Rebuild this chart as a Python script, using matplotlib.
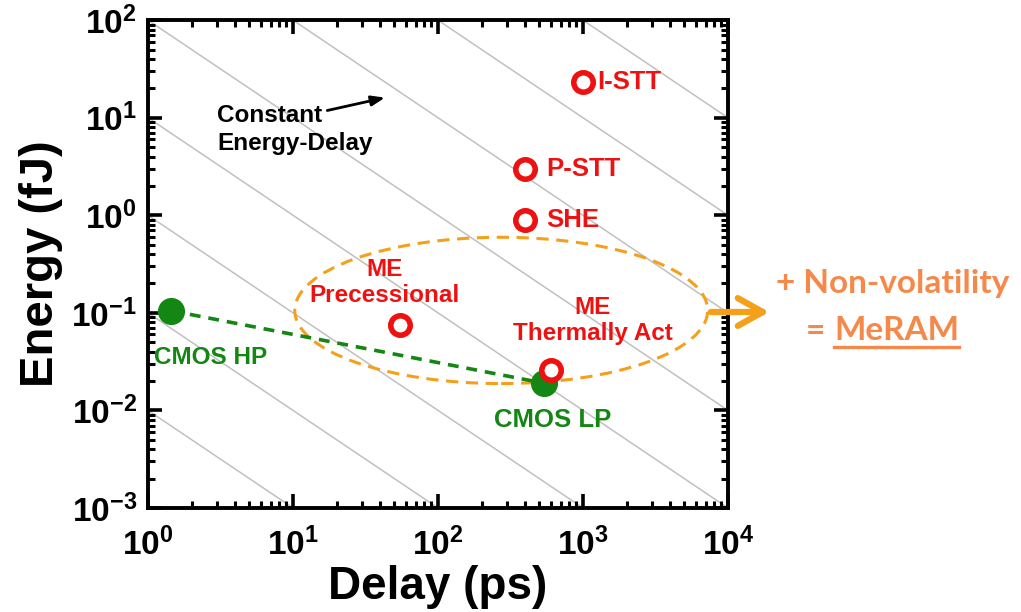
import numpy as np
import matplotlib
matplotlib.use("Agg")
import matplotlib.pyplot as plt
from matplotlib.patches import Ellipse, FancyArrowPatch
from matplotlib.lines import Line2D

plt.rcParams['font.family'] = ['Liberation Sans', 'DejaVu Sans']
plt.rcParams['mathtext.fontset'] = 'custom'
plt.rcParams['mathtext.rm'] = 'Liberation Sans:bold'
plt.rcParams['mathtext.it'] = 'Liberation Sans:bold'
plt.rcParams['mathtext.bf'] = 'Liberation Sans:bold'

# devices: delay (ps), energy (fJ)
mram_delay = [1000, 400, 400, 55, 600]
mram_energy = [23, 3.0, 0.9, 0.075, 0.026]

cmos_delay = [1.45, 540]
cmos_energy = [0.105, 0.019]

# constant energy-delay products (fJ*ps)
ed_products = [1e-2, 1e-1, 1e0, 1e1, 1e2, 1e3, 1e4, 1e5, 1e6]

xticks = [1, 10, 100, 1000, 10000]
xtick_labels = ['$10^{0}$', '$10^{1}$', '$10^{2}$', '$10^{3}$', '$10^{4}$']
yticks = [1e-3, 1e-2, 1e-1, 1e0, 1e1, 1e2]
ytick_labels = ['$10^{-3}$', '$10^{-2}$', '$10^{-1}$', '$10^{0}$', '$10^{1}$', '$10^{2}$']

red = '#EE1111'
green = '#138613'
orange = '#F5A01A'
text_orange = '#F5894A'

fig = plt.figure(figsize=(10.21, 6.12), dpi=100)
ax = fig.add_axes([0.145, 0.170, 0.568, 0.797])
ax.set_xscale('log')
ax.set_yscale('log')
ax.set_xlim(1, 1e4)
ax.set_ylim(1e-3, 1e2)

xx = np.logspace(0, 4, 200)
for p in ed_products:
    ax.plot(xx, p / xx, color='#c0c0c0', lw=1.1, zorder=1)

# CMOS trend
ax.plot(cmos_delay, cmos_energy, ls=(0, (3, 2.2)), color=green, lw=2.6, zorder=3)
ax.plot(cmos_delay, cmos_energy, 'o', ms=18.5, color=green, zorder=4)

ax.plot(mram_delay, mram_energy, 'o', ms=14, mfc='white', mec=red, mew=4, zorder=5)

# ME ellipse (drawn in axes space)
ell = Ellipse((0.609, 0.405), 0.712, 0.300, transform=ax.transAxes, fill=False,
              ec=orange, lw=2.2, ls=(0, (4, 2.5)), zorder=2)
ax.add_patch(ell)

lab = dict(fontweight='bold', color=red, zorder=6)
ax.text(1250, 23, 'I-STT', ha='left', va='center', fontsize=18.5, **lab)
ax.text(560, 3.0, 'P-STT', ha='left', va='center', fontsize=18.5, **lab)
ax.text(560, 0.9, 'SHE', ha='left', va='center', fontsize=18.5, **lab)
ax.text(43, 0.205, 'ME\nPrecessional', ha='center', va='center', linespacing=1.15,
        fontsize=17.5, **lab)
ax.text(1170, 0.083, 'ME\nThermally Act', ha='center', va='center', linespacing=1.15,
        fontsize=17.5, **lab)

ax.text(2.7, 0.035, 'CMOS HP', ha='center', va='center', fontsize=17.5, fontweight='bold', color=green)
ax.text(620, 0.0079, 'CMOS LP', ha='center', va='center', fontsize=18.5, fontweight='bold', color=green)

ax.text(3.0, 7.6, 'Constant\nEnergy-Delay', ha='left', va='center', fontsize=17.5,
        fontweight='bold', color='black', linespacing=1.3)
ax.annotate('', xy=(45, 16.3), xytext=(16.5, 11.7),
            arrowprops=dict(arrowstyle='-|>,head_length=0.8,head_width=0.3', color='black', lw=2))

ax.set_xticks(xticks)
ax.set_xticklabels(xtick_labels)
ax.set_yticks(yticks)
ax.set_yticklabels(ytick_labels)
ax.tick_params(which='major', direction='in', length=10, width=2.6, top=True, right=True,
               labelsize=24)
ax.tick_params(axis='x', which='major', pad=14)
ax.tick_params(axis='y', which='major', pad=8)
ax.tick_params(which='minor', direction='in', length=5, width=2.2, top=True, right=True)
for s in ax.spines.values():
    s.set_linewidth(2.8)

ax.set_xlabel('Delay (ps)', fontsize=33, fontweight='bold', labelpad=2)
ax.set_ylabel('Energy (fJ)', fontsize=34, fontweight='bold', labelpad=6)

# arrow to MeRAM note
fig.add_artist(FancyArrowPatch(
    (708 / 1021, 1 - 312 / 612), (772 / 1021, 1 - 312 / 612), transform=fig.transFigure,
    arrowstyle='->,head_length=0.9,head_width=0.5', color=orange, lw=4.5, mutation_scale=20))

fig.text(893 / 1021, 1 - 283 / 612, '+ Non-volatility', ha='center', va='center',
         fontsize=24, fontweight='bold', color=text_orange, family='Lato')
fig.text(806 / 1021, 1 - 331 / 612, '=', ha='left', va='center',
         fontsize=24, fontweight='bold', color=text_orange, family='Lato')
t_me = fig.text(834 / 1021, 1 - 331 / 612, 'MeRAM', ha='left', va='center',
                fontsize=24, fontweight='bold', color=text_orange, family='Lato')
fig.canvas.draw()
bb = t_me.get_window_extent().transformed(fig.transFigure.inverted())
fig.add_artist(Line2D([bb.x0, bb.x1], [bb.y0 - 0.002, bb.y0 - 0.002],
                      transform=fig.transFigure, color=text_orange, lw=2.4))

fig.savefig('out.png', dpi=100)
